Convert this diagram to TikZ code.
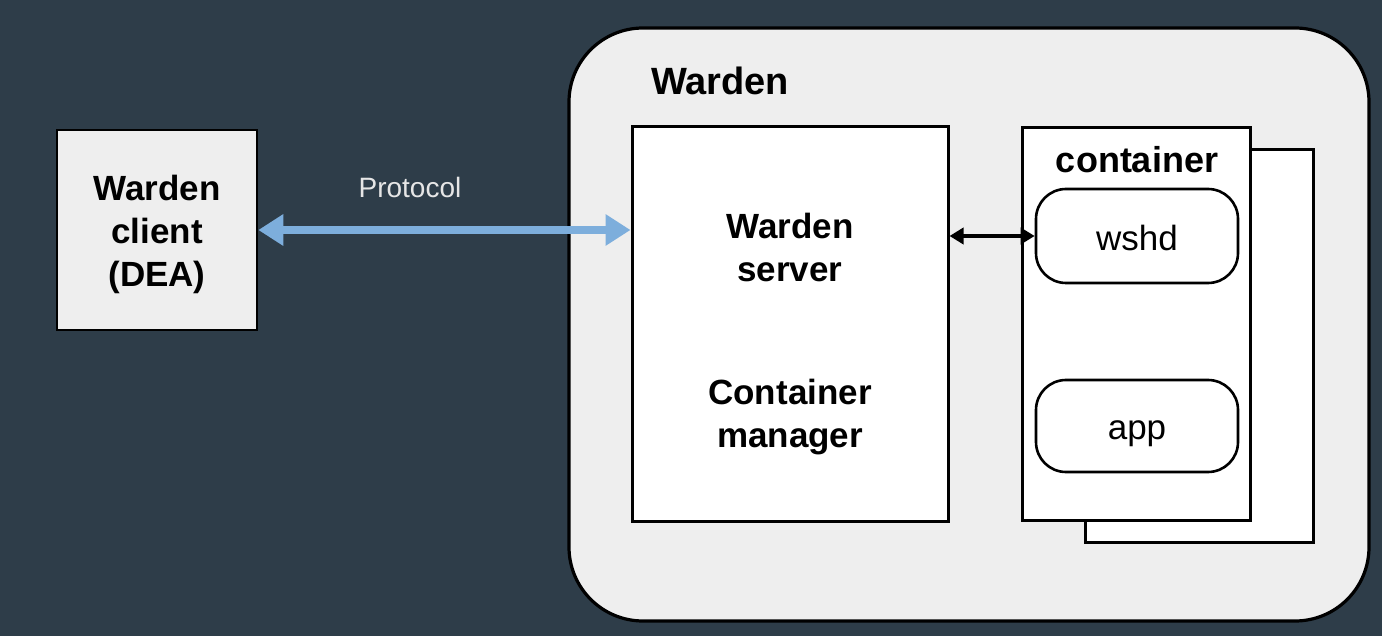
\documentclass[tikz,border=0pt]{standalone}
\usepackage{fontspec}
\setmainfont{Liberation Sans}
\usetikzlibrary{arrows.meta}
\definecolor{bgdark}{HTML}{2E3D49}
\definecolor{panel}{HTML}{EEEEEE}
\definecolor{protoblue}{HTML}{7DAEDC}
\definecolor{prototext}{HTML}{E6E6E6}
\tikzset{
  boldtext/.style={font=\fontsize{17.5}{21.5}\selectfont\bfseries, align=center, text=black},
  plaintext/.style={font=\fontsize{17.5}{21.5}\selectfont, align=center, text=black},
  plainbox/.style={draw=black, line width=1.5pt, fill=white},
  procbox/.style={draw=black, line width=1.3pt, fill=white, rounded corners=15pt},
}
\begin{document}
\begin{tikzpicture}[x=0.5pt,y=-0.5pt]
\useasboundingbox (0,0) rectangle (1382,636);
\fill[bgdark] (0,0) rectangle (1382,636);
% outer Warden panel
\draw[black, line width=1.6pt, fill=panel, rounded corners=37pt] (569,28) rectangle (1369,621);
\node[boldtext, font=\fontsize{19}{22}\selectfont\bfseries, anchor=west] (wtitle) at (644,81) {Warden};
% client
\node[draw=black, line width=1.3pt, fill=panel, minimum width=100pt, minimum height=100pt] (client) at (157,230) {};
\node[boldtext] (clienttext) at (157,234) {Warden\\client\\(DEA)};
% server
\node[plainbox, minimum width=158pt, minimum height=197pt] (server) at (790,324) {};
\node[boldtext] (srv1) at (790,247) {Warden\\server};
\node[boldtext] (srv2) at (790,417) {Container\\manager};
% containers
\node[plainbox, minimum width=114pt, minimum height=196pt] (cback) at (1199,346) {};
\node[plainbox, minimum width=114pt, minimum height=196pt] (cfront) at (1136,324) {};
\node[boldtext, font=\fontsize{18}{22}\selectfont\bfseries] (ctitle) at (1137,160) {container};
\node[procbox, minimum width=101pt, minimum height=47pt] (wshd) at (1137,236) {};
\node[plaintext] (wshdtext) at (1137,238) {wshd};
\node[procbox, minimum width=101pt, minimum height=46pt] (app) at (1137,426) {};
\node[plaintext] (apptext) at (1137,434) {app};
% connectors
\draw[protoblue, line width=4pt, {Triangle[length=12.5pt,width=15pt]}-{Triangle[length=12.5pt,width=15pt]}] (client.east) -- (server.west |- client.east);
\node[font=\fontsize{14}{17}\selectfont, text=prototext] (proto) at (410,187) {Protocol};
\draw[black, line width=2pt, {Triangle[length=7pt,width=8pt]}-{Triangle[length=7pt,width=8pt]}] (server.east |- wshd.west) -- (wshd.west);
\end{tikzpicture}
\end{document}
